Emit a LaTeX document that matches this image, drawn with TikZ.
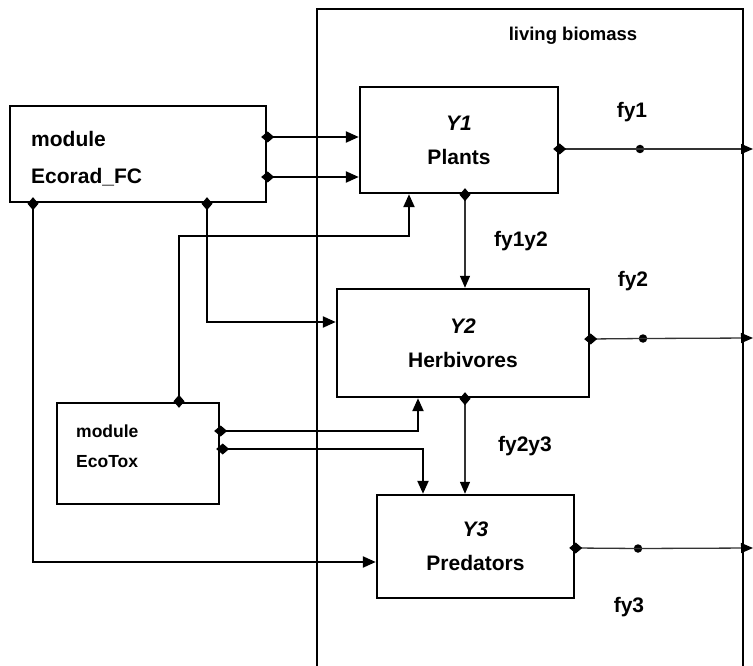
\documentclass[tikz,border=0pt]{standalone}
\usepackage{fontspec}
\setmainfont{Liberation Sans}
\usetikzlibrary{arrows.meta,calc}
\begin{document}
\begin{tikzpicture}[x=1pt,y=-1pt]
    \tikzstyle{bx} = [draw, line width=2.4pt, inner sep=0pt,
    font=\fontsize{21}{34}\selectfont\bfseries, align=center];
    \tikzstyle{txt} = [inner sep=0pt,
    font=\fontsize{21}{34}\selectfont\bfseries];
    \tikzstyle{dot} = [circle, fill=black, inner sep=0pt,
    minimum size=8.5pt];
    \tikzstyle{ga} = [black, line width=2.2pt, shorten <=-6pt,
    {Diamond[length=13pt,width=11pt]}-{Triangle[length=13pt,width=11pt]}];
    \tikzstyle{ta} = [black!80, line width=1.3pt, shorten <=-6pt,
    {Diamond[length=13pt,width=11pt,color=black]}-{Triangle[length=12pt,width=10pt,color=black]}];

    \useasboundingbox (0,0) rectangle (753,666);
    \draw[line width=1.2pt] (317,666) -- (317,9) -- (743,9) -- (743,666);
    \node[txt, font=\fontsize{18.5}{20}\selectfont\bfseries,
    anchor=base] (lb) at (573,41) {living biomass};

    \node[bx, minimum width=256pt, minimum height=96pt] (ecorad) at (138,154){};
    \node[txt, align=left, anchor=west] (ecoradtxt) at (31,158.5)
    {module\\[3pt]Ecorad\_FC};
    \node[bx, minimum width=162pt, minimum height=101pt] (ecotox) at (138,453.5){};
    \node[txt, font=\fontsize{17.5}{30}\selectfont\bfseries, align=left,
    anchor=west] (ecotoxtxt) at (76,446) {module\\EcoTox};

    \node[bx, minimum width=198pt, minimum height=106pt] (plants) at (459,140)
    {\textit{Y1}\\Plants};
    \node[bx, minimum width=252pt, minimum height=108pt] (herb) at (463,343)
    {\textit{Y2}\\Herbivores};
    \node[bx, minimum width=197pt, minimum height=103pt] (pred) at (475.5,546.5)
    {\textit{Y3}\\Predators};

    \node[txt] (fy1) at (632,112){fy1};
    \node[txt] (fy2) at (633,281){fy2};
    \node[txt] (fy3) at (629,607){fy3};
    \node[txt] (fy1y2) at (521,241){fy1y2};
    \node[txt] (fy2y3) at (525,446){fy2y3};

    \coordinate (e1) at ($(ecorad.east)+(0,-17)$);
    \coordinate (e2) at ($(ecorad.east)+(0,23)$);
    \coordinate (e3) at ($(ecorad.south)+(-105,0)$);
    \coordinate (e4) at ($(ecorad.south)+(69,0)$);
    \coordinate (t1) at ($(ecotox.north)+(41,0)$);
    \coordinate (t2) at ($(ecotox.east)+(0,-22.5)$);
    \coordinate (t3) at ($(ecotox.east)+(2,-4.5)$);
    \coordinate (p1) at ($(plants.south)+(6,0)$);
    \coordinate (h1) at ($(herb.south)+(2,0)$);

    \draw[ga] (e1) -- (e1 -| plants.west);
    \draw[ga] (e2) -- (e2 -| plants.west);
    \draw[ga] (e3) |- ($(pred.west)+(0,15.5)$);
    \draw[ga] (e4) |- ($(herb.west)+(0,-21)$);
    \draw[ga] (t1) -- ++(0,-166) -| ($(plants.south)+(-50,0)$);
    \draw[ga] (t2) -| ($(herb.south)+(-45,0)$);
    \draw[ga] (t3) -| ($(pred.north)+(-52.5,0)$);
    \draw[ta] (p1) -- (p1 |- herb.north);
    \draw[ta] (h1) -- (h1 |- pred.north);

    \node[dot] (d1) at (640,149){};
    \node[dot] (d2) at (643,338.5){};
    \node[dot] (d3) at (638,548.5){};
    \coordinate (o1) at (753,149);
    \coordinate (o2) at (753,338);
    \coordinate (o3) at (753,548);

    \draw[ta] ($(plants.east)+(0,9)$) -- (d1.center) -- (o1);
    \draw[ta] ($(herb.east)+(0,-4)$) -- (d2.center) -- (o2);
    \draw[ta] ($(pred.east)+(0,1.5)$) -- (d3.center) -- (o3);
\end{tikzpicture}
\end{document}
